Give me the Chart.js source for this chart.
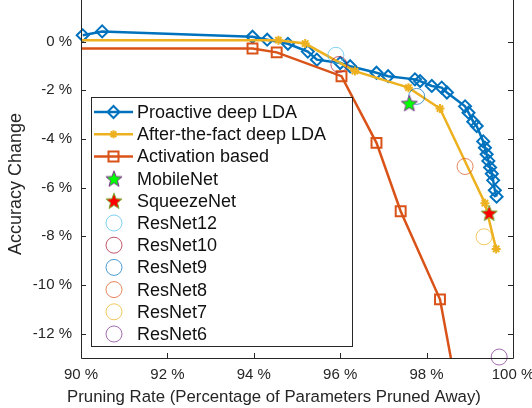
<!DOCTYPE html>
<html>
<head>
<meta charset="utf-8">
<script src="https://cdn.jsdelivr.net/npm/chart.js@4.4.1/dist/chart.umd.min.js"></script>
<style>
  html, body { margin: 0; padding: 0; background: #fff; }
</style>
</head>
<body>
<canvas id="myChart" width="532" height="408"></canvas>
<script>
// series (x = pruning rate %, y = accuracy change %)
var proactiveX = [90.04, 90.49, 93.97, 94.31, 94.79, 95.25, 95.46, 96.0, 96.23, 96.84, 97.11, 97.73, 97.85, 98.12, 98.35, 98.47, 98.89, 98.97, 99.08, 99.16, 99.31, 99.35, 99.39, 99.43, 99.47, 99.51, 99.54, 99.58, 99.62];
var proactiveY = [0.26, 0.42, 0.2, 0.08, -0.09, -0.41, -0.74, -0.88, -1.01, -1.28, -1.42, -1.55, -1.62, -1.82, -1.89, -2.09, -2.66, -2.92, -3.29, -3.47, -4.1, -4.36, -4.63, -4.9, -5.17, -5.43, -5.7, -6.11, -6.37];

var afterX = [90, 94.57, 95.19, 96.34, 97.58, 98.31, 99.35, 99.61];
var afterY = [0.06, 0.06, -0.08, -1.21, -1.89, -2.75, -6.64, -8.52];

var activationX = [90, 93.97, 94.53, 96.03, 96.84, 97.40, 98.31, 98.75];
var activationY = [-0.28, -0.28, -0.44, -1.42, -4.16, -6.97, -10.59, -14.8];

// single models
var modelNames = ["MobileNet", "SqueezeNet", "ResNet12", "ResNet10", "ResNet9", "ResNet8", "ResNet7", "ResNet6"];
var modelX = [97.60, 99.45, 95.90, 95.97, 97.77, 98.89, 99.33, 99.68];
var modelY = [-2.53, -7.04, -0.56, -0.94, -2.25, -5.13, -8.02, -12.96];

var xTicks = [90, 92, 94, 96, 98, 100];
var yTicks = [0, -2, -4, -6, -8, -10, -12];
var xTitle = "Pruning Rate (Percentage of Parameters Pruned Away)";

var blue = "#0072BD", orange = "#D95319", yellow = "#EDB120";
var ringColors = ["rgba(77,190,238,0.7)", "rgba(162,20,47,0.7)", "rgba(0,114,189,0.7)", "rgba(217,83,25,0.7)", "rgba(237,177,32,0.7)", "rgba(126,47,142,0.7)"];
var axisColor = "#262626";
var fontName = "'Liberation Sans', Arial, sans-serif";

function pts(xs, ys) {
    return xs.map(function (x, i) { return { x: x, y: ys[i] }; });
}

function makeStar(fill, edge) {
    var c = document.createElement("canvas");
    c.width = 20; c.height = 20;
    var g = c.getContext("2d");
    g.beginPath();
    for (var i = 0; i < 10; i++) {
        var r = i % 2 == 0 ? 8.5 : 3.6;
        var a = -Math.PI / 2 + i * Math.PI / 5;
        var px = 10 + r * Math.cos(a), py = 10.8 + r * Math.sin(a);
        if (i == 0) g.moveTo(px, py); else g.lineTo(px, py);
    }
    g.closePath();
    g.fillStyle = fill; g.fill();
    g.lineWidth = 1; g.strokeStyle = edge; g.stroke();
    return c;
}
var starMobile = makeStar("#00FF00", "#7E2F8E");
var starSqueeze = makeStar("#FF0000", "#77AC30");

var datasets = [
    {
        label: "Proactive deep LDA", data: pts(proactiveX, proactiveY), order: 3,
        borderColor: blue, borderWidth: 2.5, pointStyle: "rectRot", pointRadius: 6,
        pointBorderWidth: 2, pointBorderColor: blue, pointBackgroundColor: "rgba(0,0,0,0)", clip: false
    },
    {
        label: "After-the-fact deep LDA", data: pts(afterX, afterY), order: 2,
        borderColor: yellow, borderWidth: 2.5, pointStyle: "star",
        pointRadius: function (c) { return c.dataIndex == 0 ? 0 : 4.5; },
        pointBorderWidth: 2, pointBorderColor: yellow, pointBackgroundColor: yellow
    },
    {
        label: "Activation based", data: pts(activationX, activationY), order: 1,
        borderColor: orange, borderWidth: 2.5, pointStyle: "rect",
        pointRadius: function (c) { return c.dataIndex == 0 ? 0 : 7; },
        pointBorderWidth: 2, pointBorderColor: orange, pointBackgroundColor: "rgba(0,0,0,0)"
    }
];
modelNames.forEach(function (name, i) {
    var ds = { label: name, data: [{ x: modelX[i], y: modelY[i] }], showLine: false, order: 0, clip: false };
    if (i == 0 || i == 1) {
        ds.pointStyle = i == 0 ? starMobile : starSqueeze;
        ds.pointRadius = 9;
    } else {
        ds.pointStyle = "circle"; ds.pointRadius = 8; ds.pointBorderWidth = 1;
        ds.pointBorderColor = ringColors[i - 2]; ds.pointBackgroundColor = "rgba(0,0,0,0)";
    }
    datasets.push(ds);
});

// box, inward ticks (MATLAB style) and the x label, which sits a bit left of centre
var framePlugin = {
    id: "frame",
    afterDraw: function (chart) {
        var ctx = chart.ctx, a = chart.chartArea, sx = chart.scales.x, sy = chart.scales.y;
        ctx.save();
        ctx.strokeStyle = axisColor; ctx.lineWidth = 1;
        ctx.beginPath();
        ctx.moveTo(a.left + 0.5, 0); ctx.lineTo(a.left + 0.5, a.bottom + 0.5);
        ctx.lineTo(a.right + 0.5, a.bottom + 0.5); ctx.lineTo(a.right + 0.5, 0);
        xTicks.forEach(function (v) {
            var px = Math.round(sx.getPixelForValue(v)) + 0.5;
            ctx.moveTo(px, a.bottom); ctx.lineTo(px, a.bottom - 5);
        });
        yTicks.forEach(function (v) {
            var py = Math.round(sy.getPixelForValue(v)) + 0.5;
            ctx.moveTo(a.left, py); ctx.lineTo(a.left + 5, py);
            ctx.moveTo(a.right, py); ctx.lineTo(a.right - 5, py);
        });
        ctx.stroke();
        ctx.fillStyle = axisColor;
        ctx.font = "16.8px " + fontName;
        ctx.textAlign = "center";
        ctx.textBaseline = "middle";
        ctx.fillText(xTitle, 274, 397);
        ctx.restore();
    }
};

function marker(ctx, style, x, y, color) {
    ctx.save();
    ctx.strokeStyle = color; ctx.lineWidth = 2;
    ctx.beginPath();
    if (style == "diamond") {
        ctx.moveTo(x, y - 6); ctx.lineTo(x + 6, y); ctx.lineTo(x, y + 6); ctx.lineTo(x - 6, y); ctx.closePath();
    } else if (style == "square") {
        ctx.rect(x - 5, y - 5, 10, 10);
    } else if (style == "asterisk") {
        for (var k = 0; k < 4; k++) {
            var ang = k * Math.PI / 4;
            ctx.moveTo(x - 4 * Math.cos(ang), y - 4 * Math.sin(ang));
            ctx.lineTo(x + 4 * Math.cos(ang), y + 4 * Math.sin(ang));
        }
    }
    ctx.stroke();
    ctx.restore();
}

var legendPlugin = {
    id: "boxLegend",
    afterDraw: function (chart) {
        var ctx = chart.ctx;
        var left = 91.5, top = 97.5, right = 352.5, bottom = 346.5;
        ctx.save();
        ctx.fillStyle = "#fff";
        ctx.fillRect(left, top, right - left, bottom - top);
        ctx.strokeStyle = axisColor; ctx.lineWidth = 1;
        ctx.strokeRect(left, top, right - left, bottom - top);
        var lineItems = [["Proactive deep LDA", blue, "diamond"], ["After-the-fact deep LDA", yellow, "asterisk"], ["Activation based", orange, "square"]];
        var names = lineItems.map(function (d) { return d[0]; }).concat(modelNames);
        ctx.font = "18px " + fontName;
        ctx.textBaseline = "middle";
        ctx.textAlign = "left";
        names.forEach(function (name, i) {
            var y = 112 + i * 22.2;
            if (i < 3) {
                ctx.strokeStyle = lineItems[i][1]; ctx.lineWidth = 2.5;
                ctx.beginPath(); ctx.moveTo(94, y); ctx.lineTo(133, y); ctx.stroke();
                marker(ctx, lineItems[i][2], 113.5, y, lineItems[i][1]);
            } else if (i < 5) {
                var img = i == 3 ? starMobile : starSqueeze;
                ctx.drawImage(img, 114 - 10, y - 10);
            } else {
                ctx.strokeStyle = ringColors[i - 5]; ctx.lineWidth = 1;
                ctx.beginPath(); ctx.arc(114, y, 8, 0, Math.PI * 2); ctx.stroke();
            }
            ctx.fillStyle = "#111";
            ctx.fillText(name, 137, y + 1);
        });
        ctx.restore();
    }
};

new Chart("myChart", {
    type: "line",
    data: { datasets: datasets },
    plugins: [framePlugin, legendPlugin],
    options: {
        responsive: false,
        animation: false,
        events: [],
        layout: { padding: { top: 2, right: 19, bottom: 0, left: 0 } },
        plugins: { legend: { display: false }, tooltip: { enabled: false } },
        elements: { line: { tension: 0 } },
        scales: {
            x: {
                type: "linear", min: 90, max: 100,
                grid: { display: false, drawTicks: false }, border: { display: false },
                afterBuildTicks: function (s) { s.ticks = xTicks.map(function (v) { return { value: v }; }); },
                afterFit: function (s) { s.height = 50; s.paddingLeft = 0; s.paddingRight = 0; },
                ticks: {
                    padding: 8, color: axisColor, maxRotation: 0,
                    font: { family: fontName, size: 15 },
                    callback: function (v) { return v + " %"; }
                }
            },
            y: {
                type: "linear", min: -13, max: 1.3,
                grid: { display: false, drawTicks: false }, border: { display: false },
                afterBuildTicks: function (s) { s.ticks = yTicks.map(function (v) { return { value: v }; }); },
                afterFit: function (s) { s.width = 81; s.paddingTop = 0; s.paddingBottom = 0; },
                ticks: {
                    padding: 9, color: axisColor,
                    font: { family: fontName, size: 15 },
                    callback: function (v) { return v + " %"; }
                },
                title: {
                    display: true, text: "Accuracy Change",
                    color: axisColor, font: { family: fontName, size: 18 }, padding: { top: 5, bottom: 0 }
                }
            }
        }
    }
});
</script>
</body>
</html>
